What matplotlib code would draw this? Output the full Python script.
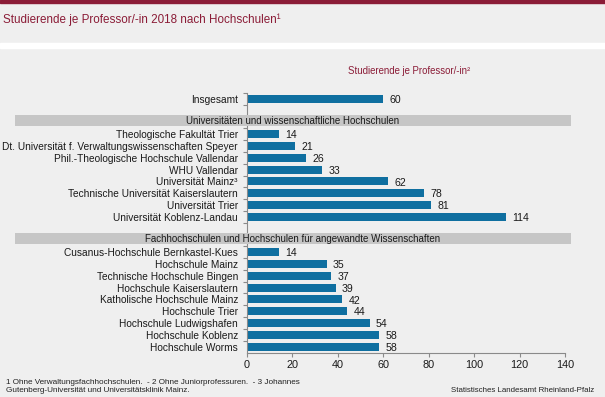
import matplotlib
matplotlib.use("Agg")
import matplotlib.pyplot as plt
from matplotlib.patches import Rectangle
from matplotlib.transforms import blended_transform_factory

plt.rcParams['font.family'] = ['Liberation Sans', 'DejaVu Sans']

total_label = "Insgesamt"
total_value = 60

uni_header = "Universitäten und wissenschaftliche Hochschulen"
uni_labels = ["Theologische Fakultät Trier",
              "Dt. Universität f. Verwaltungswissenschaften Speyer",
              "Phil.-Theologische Hochschule Vallendar",
              "WHU Vallendar",
              "Universität Mainz³",
              "Technische Universität Kaiserslautern",
              "Universität Trier",
              "Universität Koblenz-Landau"]
uni_values = [14, 21, 26, 33, 62, 78, 81, 114]

fh_header = "Fachhochschulen und Hochschulen für angewandte Wissenschaften"
fh_labels = ["Cusanus-Hochschule Bernkastel-Kues",
             "Hochschule Mainz",
             "Technische Hochschule Bingen",
             "Hochschule Kaiserslautern",
             "Katholische Hochschule Mainz",
             "Hochschule Trier",
             "Hochschule Ludwigshafen",
             "Hochschule Koblenz",
             "Hochschule Worms"]
fh_values = [14, 35, 37, 39, 42, 44, 54, 58, 58]

x_ticks = [0, 20, 40, 60, 80, 100, 120, 140]

title = "Studierende je Professor/-in 2018 nach Hochschulen¹"
subtitle = "Studierende je Professor/-in²"
footnote = ("1 Ohne Verwaltungsfachhochschulen.  - 2 Ohne Juniorprofessuren.  - 3 Johannes\n"
            "Gutenberg-Universität und Universitätsklinik Mainz.")
source = "Statistisches Landesamt Rheinland-Pfalz"

BG = "#efefef"
BAR = "#0f6fa0"
RED = "#8b1c37"
BAND = "#c6c6c6"
AXC = "#8a8a8a"
TXT = "#1a1a1a"

fig = plt.figure(figsize=(6.05, 3.97), dpi=100, facecolor=BG)

# top stripe and white separator
fig.patches.append(Rectangle((0, 1 - 3/397), 1, 3/397, transform=fig.transFigure,
                             color=RED, zorder=5))
fig.patches.append(Rectangle((0, 1 - 48/397), 1, 4.5/397, transform=fig.transFigure,
                             color="white", zorder=5))
fig.text(3/605, 1 - 20/397, title, color=RED, fontsize=8.4, va="center", ha="left")
fig.text(348/605, 1 - 71/397, subtitle, color=RED, fontsize=6.9, va="center", ha="left")

# layout rows
labels = [total_label]
values = [total_value]
pos = [0]
uni_start = 3
labels += uni_labels
values += uni_values
pos += list(range(uni_start, uni_start + len(uni_labels)))
fh_start = uni_start + len(uni_labels) + 2
labels += fh_labels
values += fh_values
pos += list(range(fh_start, fh_start + len(fh_labels)))
nrows = pos[-1]

ax = fig.add_axes([247/605, 1 - 353/397, 318/605, 260/397])
ax.set_facecolor(BG)
ax.barh(pos, values, height=0.68, color=BAR, zorder=2)
for p, v in zip(pos, values):
    ax.text(v + 2.8, p + 0.1, f"{v:g}", va="center", ha="left", fontsize=7.6, color=TXT)

ax.set_xlim(0, 140)
ax.set_ylim(nrows + 0.55, -0.5)
ax.set_xticks(x_ticks)
ax.set_xticklabels([str(t) for t in x_ticks], fontsize=7.8, color=TXT)
ax.set_yticks(pos)
ax.set_yticklabels(labels, fontsize=7.25, color=TXT)
ax.tick_params(axis="y", which="major", length=0, pad=6.5)
ax.set_yticks([r + 0.5 for r in range(-1, nrows)], minor=True)
ax.tick_params(axis="y", which="minor", length=3, color=AXC, width=0.8)
ax.tick_params(axis="x", length=3, color=AXC, width=0.8, pad=2)
for s in ["top", "right"]:
    ax.spines[s].set_visible(False)
for s in ["left", "bottom"]:
    ax.spines[s].set_color(AXC)
    ax.spines[s].set_linewidth(0.8)

# section header bands
tr = blended_transform_factory(fig.transFigure, ax.transData)
for start, text in [(uni_start, uni_header), (fh_start, fh_header)]:
    c = start - 1.17
    h = 0.94
    ax.add_patch(Rectangle((15/605, c - h/2), (571 - 15)/605, h, transform=tr,
                           facecolor=BAND, edgecolor="none", clip_on=False, zorder=6))
    ax.text(293/605, c + 0.05, text, transform=tr, ha="center", va="center",
            fontsize=7, color=TXT, zorder=7, clip_on=False)

fig.text(5.5/605, 1 - 386.2/397, footnote, fontsize=5.85, color="#222222",
         va="center", ha="left", linespacing=1.25)
fig.text(594/605, 1 - 391/397, source, fontsize=5.7, color="#222222",
         va="center", ha="right")

fig.savefig("out.png", dpi=100, facecolor=BG)
